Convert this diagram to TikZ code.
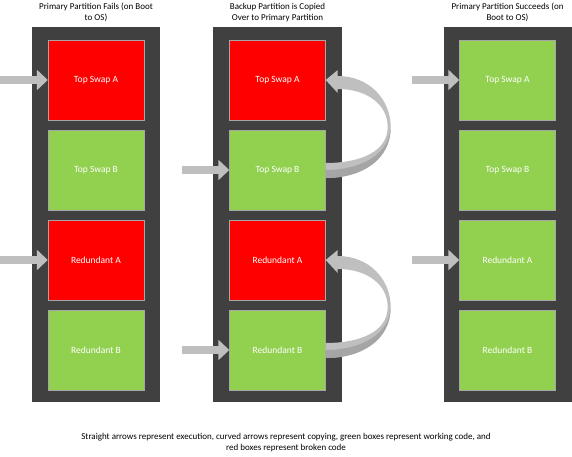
\documentclass[tikz,border=0pt]{standalone}
\usepackage{fontspec}
\setmainfont{Carlito}
\usetikzlibrary{arrows.meta, positioning, calc}

\definecolor{colbg}{HTML}{404040}
\definecolor{brokenred}{HTML}{FF0000}
\definecolor{workgreen}{HTML}{92D050}
\definecolor{arrowgray}{HTML}{BFBFBF}
\definecolor{arrowshade}{HTML}{A5A5A5}

% curved copy arrow: #1 = source box, #2 = target box
\newcommand{\copyarrow}[2]{%
    \fill[arrowgray] (#2.east) -- ++(12,10) -- ++(0,-6)
        .. controls +(32,0) and +(0,27) .. ($(#2.east)+(65,-47)$)
        .. controls +(0,-33) and +(36,0) .. ($(#1.east)+(0,-8)$)
        -- ($(#1.east)+(0,7)$)
        .. controls +(34,0) and +(0,-25) .. ($(#2.east)+(62,-47)$)
        .. controls +(0,22) and +(30,0) .. ($(#2.east)+(12,-9)$)
        -- ++(0,-4) -- cycle;
    \fill[arrowshade] ($(#2.east)+(65,-47)$)
        .. controls +(0,-33) and +(36,0) .. ($(#1.east)+(0,-8)$)
        -- (#1.east)
        .. controls +(34,0) and +(-1,-28) .. ($(#2.east)+(65,-47)$) -- cycle;
}

\begin{document}
\begin{tikzpicture}[
    x=1pt, y=1pt,
    node distance=90pt,
    on grid,
    font=\fontsize{9}{11}\selectfont,
    column/.style={fill=colbg, minimum width=128pt, minimum height=375pt, inner sep=0pt},
    part/.style={minimum width=96pt, minimum height=80pt, inner sep=0pt,
                 text=white, draw=black!35, line width=0.4pt,
                 font=\fontsize{9.5}{12}\selectfont},
    broken/.style={part, fill=brokenred},
    working/.style={part, fill=workgreen},
    heading/.style={align=center, inner sep=0pt},
    execarrow/.style={arrowgray, line width=8pt, -{Triangle[length=11pt,width=20pt]}},
]
    \useasboundingbox (0,0) rectangle (572,-457);

    \node[column]                     (C1) at (96,-214.5)    {};
    \node[column, minimum width=129pt] (C2) at (277.5,-214.5) {};
    \node[column]                     (C3) at (507.5,-214.5) {};

    \node[heading] (H1) at ($(C1.north)+(0,14)$) {Primary Partition Fails (on Boot\\to OS)};
    \node[heading] (H2) at ($(C2.north)+(0,14)$) {Backup Partition is Copied\\Over to Primary Partition};
    \node[heading] (H3) at ($(C3.north)+(0,14)$) {Primary Partition Succeeds (on\\Boot to OS)};

    % primary fails
    \node[broken]                 (tsa1) at (96,-80) {Top Swap A};
    \node[working, below=of tsa1] (tsb1) {Top Swap B};
    \node[broken,  below=of tsb1] (rda1) {Redundant A};
    \node[working, below=of rda1] (rdb1) {Redundant B};

    % backup copied over
    \node[broken]                 (tsa2) at (277.5,-80) {Top Swap A};
    \node[working, below=of tsa2] (tsb2) {Top Swap B};
    \node[broken,  below=of tsb2] (rda2) {Redundant A};
    \node[working, below=of rda2] (rdb2) {Redundant B};

    % primary succeeds
    \node[working]                (tsa3) at (507.5,-80) {Top Swap A};
    \node[working, below=of tsa3] (tsb3) {Top Swap B};
    \node[working, below=of tsb3] (rda3) {Redundant A};
    \node[working, below=of rda3] (rdb3) {Redundant B};

    \coordinate[left=48pt of tsa1.west] (x1);
    \coordinate[left=48pt of rda1.west] (x2);
    \coordinate[left=47pt of tsb2.west] (x3);
    \coordinate[left=47pt of rdb2.west] (x4);
    \coordinate[left=47pt of tsa3.west] (x5);
    \coordinate[left=47pt of rda3.west] (x6);

    \draw[execarrow] (x1) -- (tsa1.west);
    \draw[execarrow] (x2) -- (rda1.west);
    \draw[execarrow] (x3) -- (tsb2.west);
    \draw[execarrow] (x4) -- (rdb2.west);
    \draw[execarrow] (x5) -- (tsa3.west);
    \draw[execarrow] (x6) -- (rda3.west);

    \copyarrow{tsb2}{tsa2}
    \copyarrow{rdb2}{rda2}

    \node[heading] (note) at (286,-442.5)
        {Straight arrows represent execution, curved arrows represent copying, green boxes represent working code, and\\red boxes represent broken code};
\end{tikzpicture}
\end{document}
